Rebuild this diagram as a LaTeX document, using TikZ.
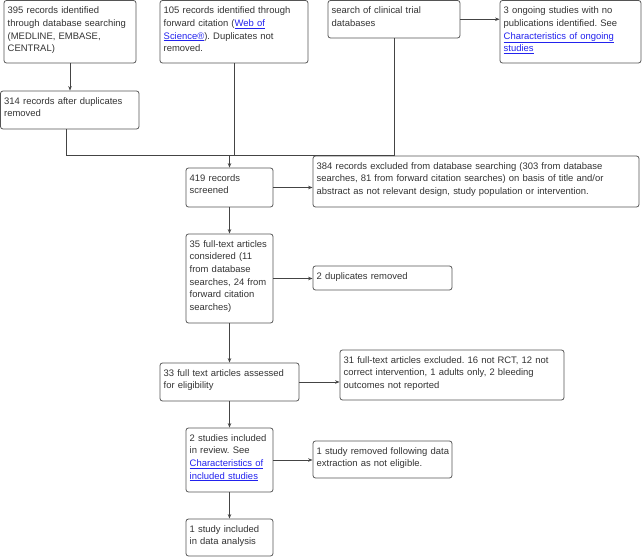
\documentclass[tikz,border=0pt]{standalone}
\usepackage{fontspec}
\setmainfont{Liberation Sans}
\usetikzlibrary{arrows.meta}
\frenchspacing
\definecolor{txtc}{HTML}{333333}
\definecolor{linec}{HTML}{444444}
\definecolor{boxc}{HTML}{555555}
\definecolor{linkc}{HTML}{2222EE}
\newcommand\lnk[1]{{\color{linkc}\underline{#1}}}
\tikzset{
  boxst/.style={draw=boxc, line width=0.8pt, rounded corners=2.5pt, inner sep=0pt},
  txt/.style={inner sep=0pt, align=left, text=txtc, font=\fontsize{9.45}{12.6}\selectfont\frenchspacing},
  line/.style={draw=linec, line width=0.8pt},
  arr/.style={line, -{Stealth[length=4.5pt,width=3.5pt]}},
}
\newcommand\bx[6]{%
  \node[boxst, minimum width={(#4-#2)*1pt}, minimum height={(#5-#3)*1pt}] (#1) at ({(#2+#4)/2},{(#3+#5)/2}) {};
  \node[txt, anchor=north west, text width={(#4-#2)*1pt}] (#1t) at ({#2+3.5},{#3+4.3}) {\strut #6};
}
\begin{document}
\begin{tikzpicture}[x=1pt,y=-1pt]
\useasboundingbox (0,0) rectangle (643,557);
\bx{A}{4}{0.5}{136}{63}{395 records identified\\through database searching\\(MEDLINE, EMBASE,\\CENTRAL)}
\bx{B}{160}{0.5}{308}{63}{105 records identified through\\forward citation (\lnk{Web of}\\\lnk{Science®}). Duplicates not\\removed.}
\bx{C}{328}{0.5}{460}{38}{search of clinical trial\\databases}
\bx{D}{500}{0.5}{641}{63}{3 ongoing studies with no\\publications identified. See\\\lnk{Characteristics of ongoing}\\\lnk{studies}}
\bx{E}{0.5}{91}{139}{129}{314 records after duplicates\\removed}
\bx{F}{186}{168}{273}{207}{419 records\\screened}
\bx{G}{313}{156}{639}{207}{384 records excluded from database searching (303 from database\\searches, 81 from forward citation searches) on basis of title and/or\\abstract as not relevant design, study population or intervention.}
\bx{H}{186}{234}{273}{323}{35 full-text articles\\considered (11\\from database\\searches, 24 from\\forward citation\\searches)}
\bx{I}{313}{266}{452}{290}{2 duplicates removed}
\bx{J}{160}{363}{299}{401}{33 full text articles assessed\\for eligibility}
\bx{K}{340}{350}{564}{400}{31 full-text articles excluded. 16 not RCT, 12 not\\correct intervention, 1 adults only, 2 bleeding\\outcomes not reported}
\bx{L}{186}{428}{273}{492}{2 studies included\\in review. See\\\lnk{Characteristics of}\\\lnk{included studies}}
\bx{M}{313}{441}{452}{478}{1 study removed following data\\extraction as not eligible.}
\bx{N}{186}{519}{273}{556}{1 study included\\in data analysis}
\coordinate (j) at (0,155);
\draw[arr] (A.south) -- (A.south |- E.north);
\draw[arr] (C.east) -- (D.west |- C.east);
\draw[line] ([xshift=-3.5pt]E.south) |- (C.south |- j) -- (C.south);
\draw[line] (B.south) -- (B.south |- j);
\draw[arr] (F.north |- j) -- (F.north);
\draw[arr] (F.east) -- (G.west |- F.east);
\draw[arr] (F.south) -- (H.north);
\draw[arr] (H.east) -- (I.west |- H.east);
\draw[arr] (H.south) -- (H.south |- J.north);
\draw[arr] (J.east) -- (K.west |- J.east);
\draw[arr] (J.south -| L.north) -- (L.north);
\draw[arr] (L.east) -- (M.west |- L.east);
\draw[arr] (L.south) -- (N.north);
\end{tikzpicture}
\end{document}
